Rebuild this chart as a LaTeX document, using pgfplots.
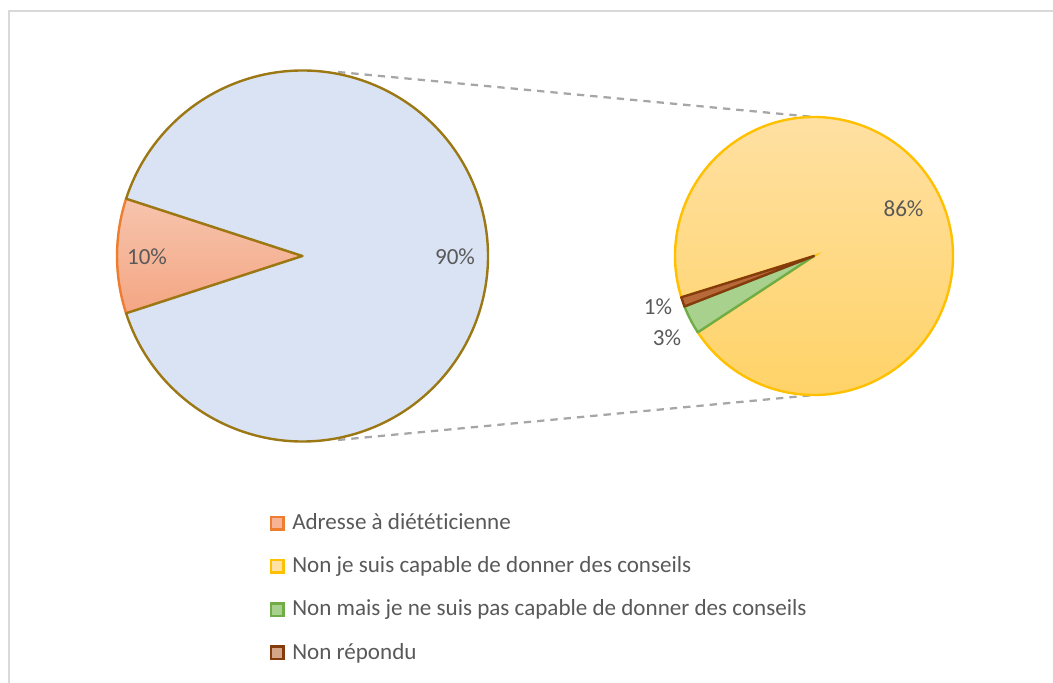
\documentclass[border=0pt]{standalone}
\usepackage{fontspec}
\setmainfont{Carlito}[Ligatures=NoCommon]
\usepackage{pgfplots}
\pgfplotsset{compat=1.18}

\definecolor{txt}{HTML}{595959}
\definecolor{frame}{HTML}{D9D9D9}
\definecolor{conn}{HTML}{A6A6A6}
\definecolor{bluefill}{HTML}{DAE3F3}
\definecolor{goldline}{HTML}{9C7815}
\definecolor{salmtop}{HTML}{F6C4AD}
\definecolor{salmbot}{HTML}{F4A683}
\definecolor{orangeline}{HTML}{ED7D31}
\definecolor{yeltop}{HTML}{FFE1A6}
\definecolor{yelbot}{HTML}{FFD264}
\definecolor{yelline}{HTML}{FFC000}
\definecolor{greenfill}{HTML}{A9D18E}
\definecolor{greenline}{HTML}{70AD47}
\definecolor{brownfill}{HTML}{B8693A}
\definecolor{brownline}{HTML}{843C0C}

% pie slice: cx, cy (axis units), radius, start angle, sweep, style
\newcommand{\slice}[6]{%
  \path[#6] (axis cs:#1,#2) -- ++({#4}:#3)
    arc[start angle={#4}, delta angle={#5}, radius=#3] -- cycle;}

% values (%)
\def\pA{10}   % Adresse a dieteticienne
\def\pB{90}   % rest
\def\qA{86}   % Non je suis capable
\def\qB{3}    % Non mais pas capable
\def\qC{1}    % Non repondu
\def\qT{(\qA+\qB+\qC)}

\begin{document}
\begin{tikzpicture}[font=\fontsize{17.3}{20}\selectfont]
\begin{axis}[
    scale only axis, width=789.75pt, height=511.5pt,
    xmin=0, xmax=1053, ymin=0, ymax=682,
    hide axis, clip=false,
]
  \coordinate (sw) at (rel axis cs:0,0);
  \coordinate (ne) at (rel axis cs:1,1);

  % frame
  \draw[line width=1.6pt, frame] (axis cs:9,-20) -- (axis cs:9,671) -- (axis cs:1080,671);

  % connector lines
  \draw[conn, line width=1.7pt, dash pattern=on 5.5pt off 4.5pt]
      (axis cs:338,610) -- (axis cs:814,565);
  \draw[conn, line width=1.7pt, dash pattern=on 5.5pt off 4.5pt]
      (axis cs:338,242) -- (axis cs:814,287);

  % left pie
  \slice{302.5}{426}{139.1pt}{180-\pA*1.8}{\pA*3.6}
        {top color=salmtop, bottom color=salmbot, draw=orangeline, line width=1.8pt}
  \slice{302.5}{426}{139.1pt}{180+\pA*1.8}{\pB*3.6}
        {fill=bluefill, draw=goldline, line width=1.8pt, line join=round}

  % right pie
  \slice{814}{426}{104.25pt}{197.3+(\qC+\qB)/\qT*360}{\qA/\qT*360}
        {top color=yeltop, bottom color=yelbot, draw=yelline, line width=1.8pt}
  \slice{814}{426}{104.25pt}{197.3+\qC/\qT*360}{\qB/\qT*360}
        {fill=greenfill, draw=greenline, line width=1.8pt, line join=round}
  \slice{814}{426}{104.25pt}{197.3}{\qC/\qT*360}
        {fill=brownfill, draw=brownline, line width=1.8pt, line join=round}

  % data labels
  \node[txt, anchor=base] at (axis cs:147,417.5) {10\%};
  \node[txt, anchor=base] at (axis cs:455,417.5) {90\%};
  \node[txt, anchor=base] at (axis cs:903.5,465) {86\%};
  \node[txt, anchor=base] at (axis cs:658,367) {1\%};
  \node[txt, anchor=base] at (axis cs:667,336) {3\%};

  % legend
  \draw[line width=1.6pt, orangeline, fill=salmbot!85!white] (axis cs:271,165) rectangle (axis cs:283.5,152.5);
  \node[txt, anchor=base west, inner sep=0pt] at (axis cs:292,152) {Adresse à diététicienne};
  \draw[line width=1.6pt, yelline, fill=yeltop] (axis cs:271,122) rectangle (axis cs:283.5,109.5);
  \node[txt, anchor=base west, inner sep=0pt] at (axis cs:292,109) {Non je suis capable de donner des conseils};
  \draw[line width=1.6pt, greenline, fill=greenfill] (axis cs:271,78.5) rectangle (axis cs:283.5,66);
  \node[txt, anchor=base west, inner sep=0pt] at (axis cs:292,66) {Non mais je ne suis pas capable de donner des conseils};
  \draw[line width=1.6pt, brownline, fill=brownfill!60!white] (axis cs:271,35.5) rectangle (axis cs:283.5,23);
  \node[txt, anchor=base west, inner sep=0pt] at (axis cs:292,22.5) {Non répondu};
\end{axis}
\pgfresetboundingbox
\path[use as bounding box] (sw) rectangle (ne);
\end{tikzpicture}
\end{document}
